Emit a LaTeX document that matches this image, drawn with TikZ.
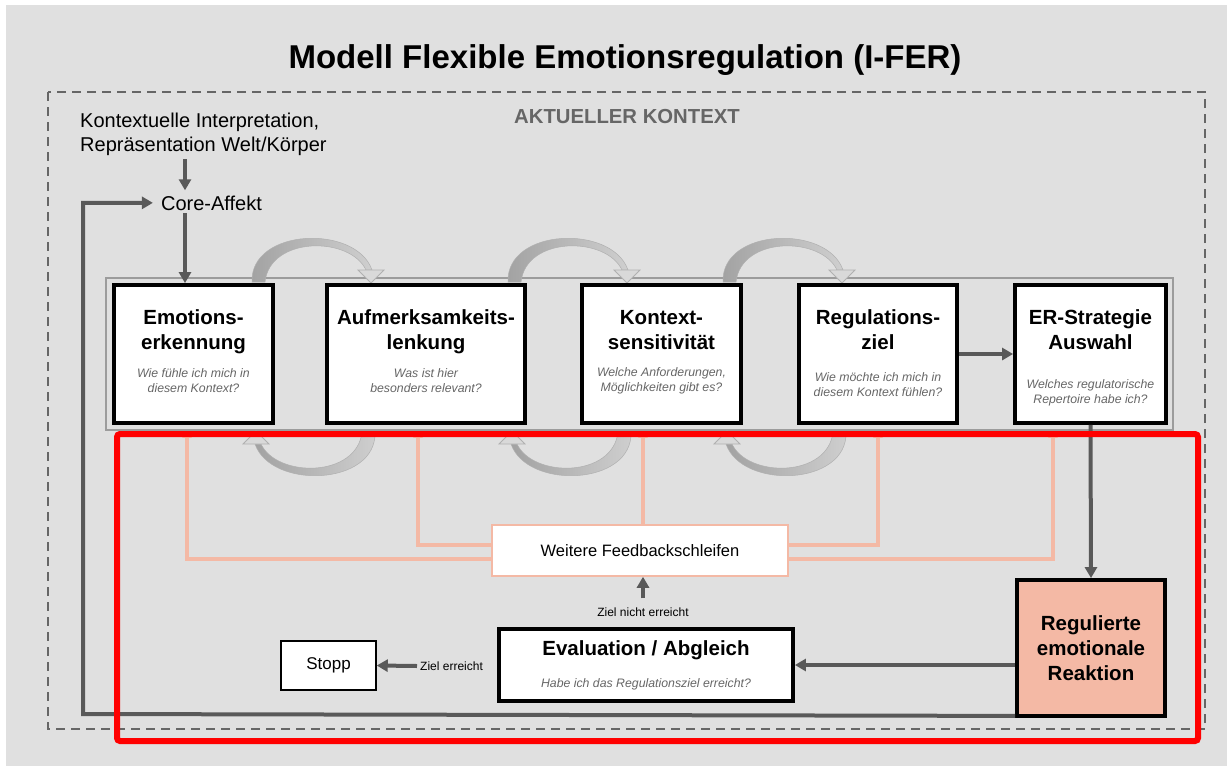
\documentclass[tikz,border=0pt]{standalone}
\usepackage{fontspec}
\setmainfont{Liberation Sans}
\usetikzlibrary{arrows.meta,calc}

\definecolor{bgfill}{HTML}{E0E0E0}
\definecolor{flowgray}{HTML}{595959}
\definecolor{dashgray}{HTML}{666666}
\definecolor{groupgray}{HTML}{9C9C9C}
\definecolor{salmon}{HTML}{F4B9A5}
\definecolor{subgray}{HTML}{666666}
\definecolor{arcdark}{HTML}{A2A2A2}
\definecolor{arclight}{HTML}{CFCFCF}
\definecolor{arcline}{HTML}{B0B0B0}
\definecolor{headfill}{HTML}{D9D9D9}
\definecolor{framered}{HTML}{FF0000}

\tikzset{
  stagebox/.style={draw=black, line width=3.8pt, fill=white,
    minimum width=#1, minimum height=138pt, inner sep=0pt},
  titletext/.style={font=\bfseries\fontsize{20.5}{24}\selectfont, inner sep=0pt, anchor=base},
  subtext/.style={font=\itshape\fontsize{12.3}{15}\selectfont, text=subgray, inner sep=0pt, anchor=base},
  plaintext/.style={font=\fontsize{20}{24}\selectfont, inner sep=0pt},
  smalltext/.style={font=\fontsize{12}{14}\selectfont, inner sep=3pt},
  flow/.style={draw=flowgray, line width=4pt, -{Triangle[length=11pt,width=12pt]}},
  fback/.style={draw=salmon, line width=3.5pt, -{Triangle[length=5pt,width=10pt]}},
}

% one stage of the upper row: name, centre x, width, two title lines,
% two question lines, baseline offset of the questions below the top edge
\newcommand\makestage[8]{%
  \node[stagebox=#3] (#1) at (#2,354) {};
  \node[titletext] (#1-ta) at ($(#1.north)+(0,41)$) {#4};
  \node[titletext] (#1-tb) at ($(#1.north)+(0,66)$) {#5};
  \node[subtext] (#1-sa) at ($(#1.north)+(0,#8)$) {#6};
  \node[subtext] (#1-sb) at ($(#1.north)+(0,#8+15)$) {#7};
}

% curved grey arrow above the row, pointing to the right
\newcommand\arcband{%
  \shade[left color=arcdark, right color=arclight, draw=arcline, line width=0.5pt]
    (252,282) .. controls (250,228) and (356,224) .. (372,270)
    -- (366,270) .. controls (350,236) and (270,236) .. (265,282) -- cycle;
  \draw[arcline, line width=0.8pt, fill=headfill] (358,270) -- (384,270) -- (371,283) -- cycle;
}
% pair of curved arrows forming a cycle between two neighbouring stages
\newcommand\arcpair[1]{%
  \begin{scope}[shift={(#1,0)}]
    \arcband
    \begin{scope}[rotate around={180:(313.5,357)}]
      \arcband
    \end{scope}
  \end{scope}
}

\begin{document}
\begin{tikzpicture}[x=1pt, y=-1pt]
  \useasboundingbox (0,0) rectangle (1227,766);
  \fill[white] (0,0) rectangle (1227,766);
  \fill[bgfill] (6,5) rectangle (1227,766);

  % title and context frame
  \node[font=\bfseries\fontsize{33}{39}\selectfont, inner sep=0pt, anchor=base] (title)
    at (625,68) {Modell Flexible Emotionsregulation (I-FER)};
  \draw[dashgray, line width=2pt, dash pattern=on 9pt off 6pt] (48,92) rectangle (1205,729);
  \node[font=\bfseries\fontsize{20.3}{24}\selectfont, text=dashgray, inner sep=0pt, anchor=base]
    (kontext) at (627,123) {AKTUELLER KONTEXT};

  % grouping frame of the stage row
  \draw[groupgray, line width=1.5pt] (106,278) rectangle (1173,430);

  % cycle arrows between the stages
  \arcpair{0}
  \arcpair{256}
  \arcpair{471}

  % stages
  \makestage{e1}{193.5}{159pt}{Emotions-}{erkennung}{Wie fühle ich mich in}{diesem Kontext?}{94}
  \makestage{e2}{426}{198pt}{Aufmerksamkeits-}{lenkung}{Was ist hier}{besonders relevant?}{94}
  \makestage{e3}{661.5}{159pt}{Kontext-}{sensitivität}{Welche Anforderungen,}{Möglichkeiten gibt es?}{93}
  \makestage{e4}{878}{158pt}{Regulations-}{ziel}{Wie möchte ich mich in}{diesem Kontext fühlen?}{98}
  \makestage{e5}{1090.5}{151pt}{ER-Strategie}{Auswahl}{Welches regulatorische}{Repertoire habe ich?}{105}

  % input side
  \node[plaintext, anchor=base west] (ctx1) at (80,127) {Kontextuelle Interpretation,};
  \node[plaintext, anchor=base west] (ctx2) at (80,151) {Repräsentation Welt/Körper};
  \node[plaintext, anchor=base, inner sep=3pt] (core) at (211.5,210) {Core-Affekt};

  % lower part
  \node[draw=black, line width=3.8pt, fill=salmon, minimum width=148pt, minimum height=136pt,
    align=center, font=\bfseries\fontsize{20.5}{25}\selectfont] (reg) at (1091,648)
    {Regulierte\\emotionale\\Reaktion};
  \node[draw=black, line width=3.8pt, fill=white, minimum width=294pt, minimum height=72pt]
    (eval) at (646,665) {};
  \node[titletext] (eval-t) at ($(eval.north)+(0,28)$) {Evaluation / Abgleich};
  \node[subtext] (eval-s) at ($(eval.north)+(0,60)$) {Habe ich das Regulationsziel erreicht?};
  \node[draw=black, line width=1.5pt, fill=white, minimum width=95pt, minimum height=49pt,
    font=\fontsize{17}{20}\selectfont] (stopp) at (328.5,665.5) {Stopp};
  \node[smalltext, anchor=west] (ze) at (417,666) {Ziel erreicht};
  \node[smalltext] (znr) at (643,612) {Ziel nicht erreicht};
  \node[draw=salmon, line width=1.5pt, fill=white, minimum width=296pt, minimum height=51pt,
    font=\fontsize{16.5}{20}\selectfont] (fb) at (640,550.5) {Weitere Feedbackschleifen};

  % feedback loops back to the stages
  \draw[fback] (fb.west |- 0,559) -| ($(e1.south)+(-6.5,8)$);
  \draw[fback] (fb.west |- 0,545) -| ($(e2.south)+(-8,8)$);
  \draw[fback] (fb.north -| 643,0) -- ($(e3.south)+(-18.5,8)$);
  \draw[fback] (fb.east |- 0,545) -| ($(e4.south)+(0,8)$);
  \draw[fback] (fb.east |- 0,559) -| ($(e5.south)+(-37.5,8)$);

  % main flow
  \draw[flow, shorten <=4pt, shorten >=2pt] (ctx2.south -| 185,0) -- (core.north -| 185,0);
  \draw[flow] (core.south -| 185,0) -- (e1.north -| 185,0);
  \draw[flow] (e4.east) -- (e5.west);
  \draw[flow] (e5.south) -- (reg.north);
  \draw[flow] (reg.west |- eval.east) -- (eval.east);
  \draw[flow, shorten <=6pt] (znr.north) -- (znr.north |- fb.south);
  \draw[flow] (ze.west) -- (stopp.east);
  \draw[flow, shorten >=5pt]
    ($(reg.south west)+(0,-2)$) -- (83,714) |- (core.west);

  % highlighted region
  \draw[framered, line width=6pt, rounded corners=3pt] (117,434) rectangle (1198,741);
\end{tikzpicture}
\end{document}
